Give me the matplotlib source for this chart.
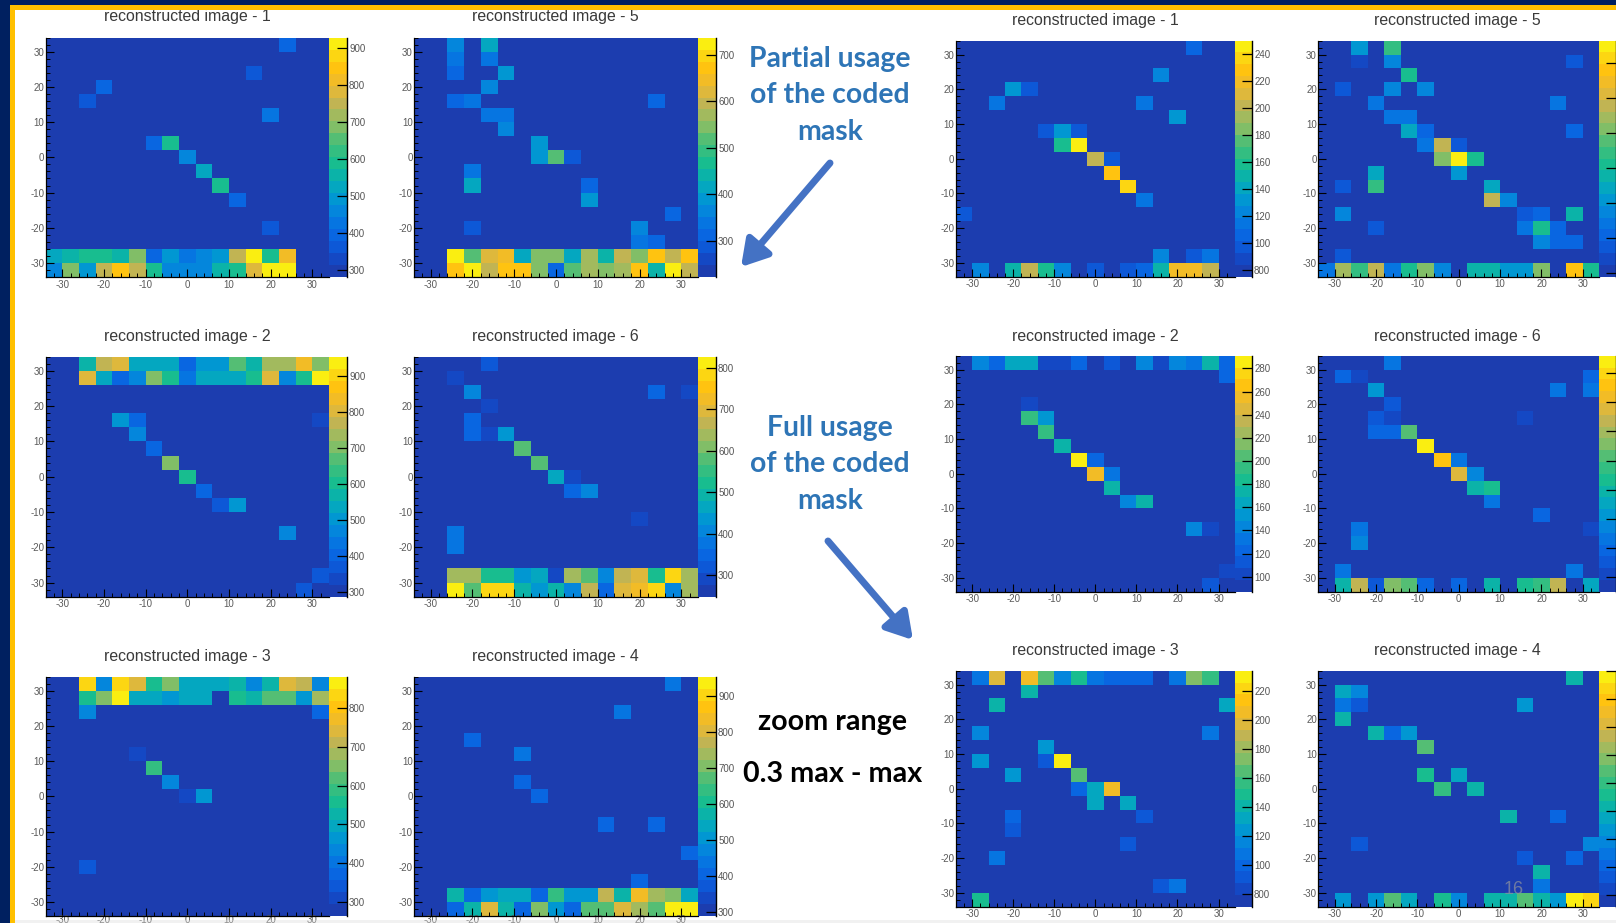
# -*- coding: utf-8 -*-
"""Slide with twelve reconstructed coded mask images, two groups of six."""
import numpy as np
import matplotlib
matplotlib.use("Agg")
import matplotlib.pyplot as plt
from matplotlib.colors import LinearSegmentedColormap, ListedColormap, BoundaryNorm
from matplotlib.patches import Rectangle
from matplotlib.ticker import MultipleLocator

W, H = 1616, 923
N_BINS = 17
N_COLORS = 20

# (col, row, value), col 0 = left, row 0 = bottom, value on the panel's colour bar
a1_cells = [(14,16,380),(12,14,370),(3,13,390),(2,12,350),(13,11,420),(6,9,400),(7,9,580),
            (8,8,460),(9,7,530),(10,6,590),(11,5,390),(13,3,360)]
a1_row1 = [510,550,580,590,540,700,400,480,420,470,500,740,900,590,820,0,0]
a1_row0 = [460,680,480,740,850,750,590,450,460,460,550,600,770,900,900,0,0]

a5_cells = [(2,16,370),(4,16,410),(2,15,340),(4,15,350),(2,14,300),(5,14,400),(4,13,360),
            (2,12,300),(3,12,340),(14,12,320),(4,11,340),(5,11,340),(5,10,370),(7,9,400),
            (7,8,400),(8,8,520),(9,8,290),(3,7,350),(3,6,420),(10,6,300),(10,5,400),
            (15,4,320),(3,3,280),(13,3,370),(13,2,340),(14,2,320)]
a5_row1 = [0,0,720,510,620,640,420,550,550,420,560,440,590,540,660,590,660]
a5_row0 = [0,0,660,720,590,670,680,540,320,530,580,550,560,670,440,730,600]

a2_cells = [(4,12,520),(5,12,390),(16,12,340),(5,11,470),(6,10,420),(7,9,720),(8,8,600),
            (9,7,400),(10,6,370),(11,6,500),(12,4,320),(14,4,480),(15,4,320),(16,1,360),
            (15,0,360)]
a2_row16 = [0,0,560,780,790,530,530,540,400,500,500,680,570,740,740,850,700]
a2_row15 = [0,0,790,550,420,470,700,600,450,530,530,530,590,800,460,590,950]

a6_cells = [(4,16,330),(2,15,290),(3,14,420),(14,14,340),(16,14,300),(4,13,290),(3,12,340),
            (3,11,340),(4,11,300),(5,11,430),(6,10,590),(7,9,590),(8,8,470),(9,8,290),
            (9,7,350),(10,7,400),(13,5,280),(2,4,370),(2,3,370)]
a6_row1 = [0,0,640,640,530,530,450,460,300,630,590,420,680,700,520,780,640]
a6_row0 = [0,0,800,590,780,770,490,450,490,420,680,340,690,720,790,400,640]

a3_cells = [(2,14,420),(16,14,360),(5,11,320),(6,10,580),(7,9,430),(8,8,310),(9,8,460),(2,3,330)]
a3_row16 = [0,0,830,440,820,740,560,660,510,480,500,520,430,530,740,700,420]
a3_row15 = [0,0,570,650,870,490,480,460,480,480,0,560,530,620,610,470,680]

a4_cells = [(15,16,430),(12,14,430),(3,12,420),(6,11,440),(6,9,420),(7,8,400),(11,6,410),
            (14,6,400),(16,4,390),(13,2,410)]
a4_row1 = [0,0,570,410,510,530,530,400,650,500,510,770,560,840,740,700,540]
a4_row0 = [0,0,420,560,790,570,420,700,500,400,680,670,810,730,680,950,950]

b1_cells = [(14,16,108),(12,14,120),(3,13,132),(4,13,95),(2,12,115),(11,12,110),(13,11,128),
            (5,10,95),(6,10,130),(7,10,95),(6,9,155),(7,9,245),(8,8,205),(9,8,100),(9,7,230),
            (10,6,235),(11,5,118),(0,4,95),(12,1,125),(14,1,95),(15,1,110)]
b1_row0 = [0,125,0,150,205,155,125,0,95,0,95,105,150,220,220,205,0]

b5_cells = [(2,16,120),(4,16,150),(2,15,90),(4,15,112),(15,15,95),(5,14,140),(1,13,95),(4,13,118),
            (6,13,112),(3,12,105),(14,12,110),(4,11,110),(5,11,110),(5,10,130),(6,10,100),
            (15,10,100),(6,9,110),(7,9,175),(8,9,92),(7,8,160),(8,8,213),(9,8,145),(3,7,130),
            (8,7,125),(1,6,95),(3,6,150),(10,6,130),(10,5,178),(11,5,112),(1,4,118),(12,4,92),
            (13,4,100),(15,4,135),(3,3,92),(12,3,108),(13,3,145),(14,3,100),(13,2,112),
            (14,2,102),(15,2,102),(1,1,92)]
b5_row0 = [105,170,150,178,105,145,165,115,0,135,135,125,120,165,0,195,140]

b2_cells = [(16,15,125),(4,13,105),(4,12,195),(5,12,150),(5,11,190),(6,10,170),(7,9,290),(8,9,125),
            (8,8,260),(9,8,130),(9,7,175),(10,6,145),(11,6,170),(14,4,145),(15,4,105),(16,1,105),
            (15,0,108)]
b2_row16 = [0,140,118,160,160,100,100,125,0,115,0,140,102,140,130,170,120]

b6_cells = [(4,16,125),(1,15,120),(2,15,105),(16,15,120),(3,14,140),(14,14,125),(16,14,125),(4,13,110),
            (3,12,112),(4,12,105),(12,12,102),(3,11,115),(4,11,115),(5,11,180),(6,10,248),(7,9,235),
            (8,9,130),(8,8,215),(9,8,135),(9,7,160),(10,7,165),(10,6,125),(13,5,120),(2,4,130),
            (16,4,105),(2,3,135),(1,1,125),(15,1,130)]
b6_row0 = [0,160,205,110,195,185,115,0,118,0,160,0,165,175,205,0,150]

b3_cells = [(4,15,140),(2,14,140),(16,14,130),(1,12,115),(15,12,105),(5,11,120),(1,10,125),(5,10,90),
            (6,10,232),(3,9,120),(7,9,165),(7,8,100),(8,8,135),(9,8,205),(8,7,130),(10,7,130),
            (3,6,100),(11,6,88),(3,5,92),(10,4,92),(2,3,105),(12,1,90),(13,1,105),(1,0,150)]
b3_row16 = [0,105,195,0,205,165,115,145,105,100,100,100,0,105,170,160,0]

b4_cells = [(15,16,140),(1,15,135),(2,15,115),(1,14,110),(2,14,95),(12,14,125),(1,13,140),(3,12,145),
            (4,12,105),(5,12,125),(6,11,170),(6,9,155),(8,9,135),(7,8,160),(9,8,140),(11,6,145),
            (14,6,105),(2,4,95),(16,4,120),(12,3,95),(15,3,105),(13,2,140),(13,1,110)]
b4_row0 = [0,125,0,125,170,135,0,155,120,0,145,145,165,145,125,240,225]

# colour bar range of each panel
a_ranges = {1:(280,927), 5:(222,737), 2:(287,955), 6:(248,827), 3:(264,881), 4:(288,955)}
b_ranges = {1:(75,250), 5:(78,213), 2:(87,291), 6:(90,252), 3:(71,234), 4:(72,240)}

# colour bar ticks, labels as printed on the slide
a_ticks = {1:[300,400,500,600,700,800,900], 5:[300,400,500,600,700],
           2:[300,400,500,600,700,800,900], 6:[300,400,500,600,700,800],
           3:[300,400,500,600,700,800], 4:[300,400,500,600,700,800,900]}
b_ticks = {1:[80,100,120,140,160,180,200,220,240], 5:[80,100,120,140,160,180,200],
           2:[100,120,140,160,180,200,220,240,260,280], 6:[100,120,140,160,180,200,220,240],
           3:[80,100,120,140,160,180,200,220], 4:[80,100,120,140,160,180,200,220,240]}

panels_a = {
    1: (a1_cells, {1:a1_row1, 0:a1_row0}),
    5: (a5_cells, {1:a5_row1, 0:a5_row0}),
    2: (a2_cells, {16:a2_row16, 15:a2_row15}),
    6: (a6_cells, {1:a6_row1, 0:a6_row0}),
    3: (a3_cells, {16:a3_row16, 15:a3_row15}),
    4: (a4_cells, {1:a4_row1, 0:a4_row0}),
}
panels_b = {
    1: (b1_cells, {0:b1_row0}),
    5: (b5_cells, {0:b5_row0}),
    2: (b2_cells, {16:b2_row16}),
    6: (b6_cells, {0:b6_row0}),
    3: (b3_cells, {16:b3_row16}),
    4: (b4_cells, {0:b4_row0}),
}

# bird like palette, cut in discrete steps as on the slide
anchors = [(0.00,(32,56,165)),(0.06,(22,68,190)),(0.15,(10,95,225)),(0.25,(5,125,225)),
           (0.35,(0,160,205)),(0.42,(10,178,170)),(0.48,(25,190,140)),(0.56,(70,190,120)),
           (0.64,(140,190,100)),(0.72,(190,180,85)),(0.80,(235,185,50)),(0.88,(255,195,15)),
           (0.95,(250,225,20)),(1.00,(250,250,15))]
base = LinearSegmentedColormap.from_list("bird", [(p, tuple(c/255 for c in rgb)) for p, rgb in anchors])
cmap = ListedColormap(base((np.arange(N_COLORS) + 0.5) / N_COLORS))

plt.rcParams["font.family"] = ["Liberation Sans", "DejaVu Sans"]
fig = plt.figure(figsize=(W/100, H/100), dpi=100, facecolor="white")


def to_fig(x0, y0, x1, y1):
    return [x0/W, 1 - y1/H, (x1 - x0)/W, (y1 - y0)/H]


def fill_grid(cells, rows, vmin):
    z = np.full((N_BINS, N_BINS), float(vmin))
    for c, r, v in cells:
        z[r, c] = v
    for r, vals in rows.items():
        for c, v in enumerate(vals):
            if v:
                z[r, c] = v
    return z


def draw_panel(box, bar_right, title, title_xy, z, vrange, ticks, tick_labels=None, xpad=2.0):
    x0, y0, x1, y1 = box
    ax = fig.add_axes(to_fig(x0, y0, x1, y1))
    edges = np.linspace(-34, 34, N_BINS + 1)
    levels = np.linspace(vrange[0], vrange[1], N_COLORS + 1)
    norm = BoundaryNorm(levels, N_COLORS)
    mesh = ax.pcolormesh(edges, edges, np.clip(z, vrange[0], vrange[1] - 1e-6), cmap=cmap, norm=norm)
    ax.set_xlim(-34, 34)
    ax.set_ylim(-34, 34)
    pos = [-30, -20, -10, 0, 10, 20, 30]
    ax.set_xticks(pos)
    ax.set_yticks(pos)
    ax.set_xticklabels([str(p) for p in pos])
    ax.set_yticklabels([str(p) for p in pos])
    ax.xaxis.set_minor_locator(MultipleLocator(2))
    ax.yaxis.set_minor_locator(MultipleLocator(2))
    ax.tick_params(which="major", direction="in", length=5.5, width=0.8, labelsize=7,
                   labelcolor="#5a5a5a", color="black")
    ax.tick_params(axis="x", which="major", pad=xpad)
    ax.tick_params(axis="y", which="major", pad=1)
    ax.tick_params(which="minor", direction="in", length=2.8, width=0.7, color="black")
    for s in ("top", "right"):
        ax.spines[s].set_visible(False)
    for s in ("left", "bottom"):
        ax.spines[s].set_linewidth(0.9)

    cax = fig.add_axes(to_fig(x1, y0, bar_right, y1))
    cb = fig.colorbar(mesh, cax=cax, spacing="proportional", drawedges=False)
    cb.outline.set_visible(False)
    cax.minorticks_off()
    cb.set_ticks(ticks)
    if tick_labels is None:
        tick_labels = [str(t) for t in ticks]
    cb.set_ticklabels(tick_labels)
    cax.tick_params(axis="y", which="both", direction="in", length=7, width=0.9, color="black",
                    labelsize=7, labelcolor="#555555", pad=1.5)
    cax.spines["right"].set_visible(True)
    cax.spines["right"].set_linewidth(1.0)

    fig.text(title_xy[0]/W, 1 - title_xy[1]/H, title, ha="center", va="center",
             fontsize=11.4, color="#3a3a3a")


# left group
cols_a = {1:(45.7,329,347), 5:(414,698,716), 2:(45.7,329,347), 6:(414,698,716), 3:(45.7,329,347), 4:(414,698,716)}
rows_a = {1:(37.7,277), 5:(37.7,277), 2:(356.7,596.7), 6:(356.7,596.7), 3:(676.7,916), 4:(676.7,916)}
title_a = {1:(187,17), 5:(555,17), 2:(187,337), 6:(555,337), 3:(187,657), 4:(555,657)}
for k, (cells, rows) in panels_a.items():
    xl, xr, xb = cols_a[k]
    yt, yb = rows_a[k]
    z = fill_grid(cells, rows, a_ranges[k][0])
    # the bottom row of the left group sits on the slide edge
    xpad = -0.5 if k in (3, 4) else 2.0
    draw_panel((xl, yt, xr, yb), xb, f"reconstructed image - {k}", title_a[k], z, a_ranges[k], a_ticks[k],
               xpad=xpad)

# right group
cols_b = {1:(955.7,1235,1252), 5:(1318.3,1599.3,1616), 2:(955.7,1235,1252), 6:(1318.3,1599.3,1616),
          3:(955.7,1235,1252), 4:(1318.3,1599.3,1616)}
rows_b = {1:(40.7,276.7), 5:(40.7,276.7), 2:(355.7,591.7), 6:(355.7,591.7), 3:(670.7,906.7), 4:(670.7,906.7)}
title_b = {1:(1095,21), 5:(1457,21), 2:(1095,336), 6:(1457,336), 3:(1095,651), 4:(1457,651)}
b_labels = {1:["800","100","120","140","160","180","200","220","240"],
            5:[""]*7,
            2:["100","120","140","160","180","200","220","240","260","280"],
            6:[""]*8,
            3:["800","100","120","140","160","180","200","220"],
            4:[""]*9}
for k, (cells, rows) in panels_b.items():
    xl, xr, xb = cols_b[k]
    yt, yb = rows_b[k]
    z = fill_grid(cells, rows, b_ranges[k][0])
    draw_panel((xl, yt, xr, yb), xb, f"reconstructed image - {k}", title_b[k], z, b_ranges[k], b_ticks[k], b_labels[k])

# overlay in pixel coordinates: slide frame, captions, arrows
ov = fig.add_axes([0, 0, 1, 1], zorder=10)
ov.set_xlim(0, W)
ov.set_ylim(H, 0)
ov.axis("off")
ov.patch.set_alpha(0)
NAVY = "#002060"
GOLD = "#ffc000"
ov.add_patch(Rectangle((0, 0), W, 4.5, color=NAVY, lw=0))
ov.add_patch(Rectangle((0, 0), 9.5, H, color=NAVY, lw=0))
ov.add_patch(Rectangle((9.5, 4.5), W, 5, color=GOLD, lw=0))
ov.add_patch(Rectangle((9.5, 4.5), 5.5, H, color=GOLD, lw=0))
ov.add_patch(Rectangle((15, 920), W, 3, color="#dddddd", alpha=0.4, lw=0))

BLUE_TXT = "#2e75b6"
ARROW = "#4472c4"
for y, s in [(59, "Partial usage"), (95, "of the coded"), (132, "mask")]:
    ov.text(830, y, s, ha="center", va="center", fontsize=20.4, fontweight="bold",
            family="Lato", color=BLUE_TXT)
for y, s in [(428, "Full usage"), (464, "of the coded"), (501, "mask")]:
    ov.text(830, y, s, ha="center", va="center", fontsize=20.4, fontweight="bold",
            family="Lato", color=BLUE_TXT)
ov.text(833, 722, "zoom range", ha="center", va="center", fontsize=20.6, fontweight="bold",
        family="Lato", color="black")
ov.text(833, 774, "0.3 max - max", ha="center", va="center", fontsize=20.6, fontweight="bold",
        family="Lato", color="black")

for start, end in [((830, 163), (741, 267)), ((828, 541), (913, 640))]:
    ov.annotate("", xy=end, xytext=start,
                arrowprops=dict(arrowstyle="-|>,head_length=0.7,head_width=0.42", color=ARROW,
                                lw=5, mutation_scale=22, shrinkA=0, shrinkB=0))

ov.text(1514, 890, "16", ha="center", va="center", fontsize=13, color="#8a8f9e", alpha=0.75)

fig.savefig("out.png", dpi=100, facecolor="white")
plt.close(fig)
